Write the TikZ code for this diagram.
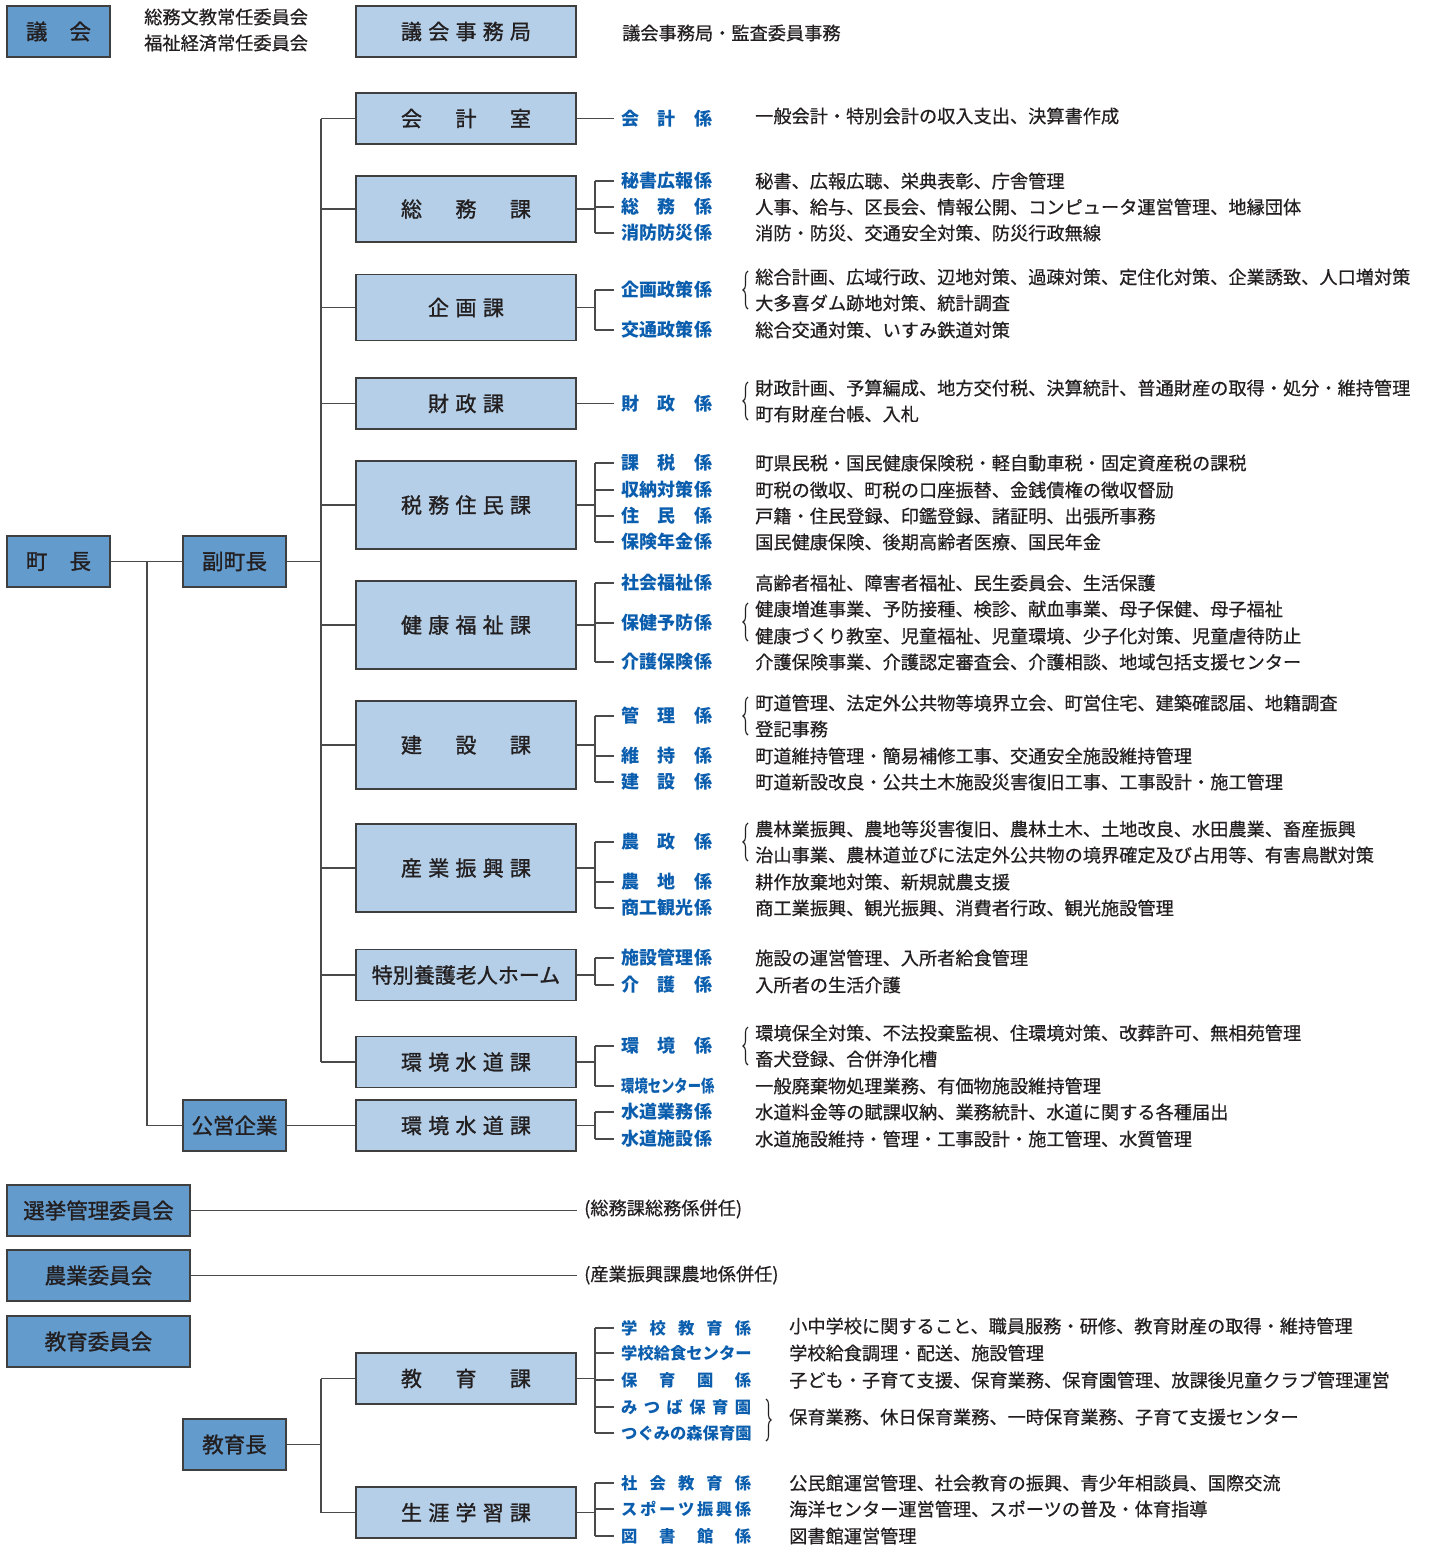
\documentclass[tikz,border=0pt]{standalone}
\usepackage{fontspec}
\setmainfont{Noto Sans CJK JP}
\newfontface\boxf{Noto Sans CJK JP}[FakeBold=1.2]
\newfontface\descf{Noto Sans CJK JP}[FakeBold=0.5]
\usetikzlibrary{decorations.pathreplacing,calc}
\definecolor{darkfill}{HTML}{649BCD}
\definecolor{lightfill}{HTML}{B4CFE7}
\definecolor{labblue}{HTML}{0B5EAE}
\definecolor{linec}{HTML}{4A4A4A}
\definecolor{bordc}{HTML}{3F3F3F}
\definecolor{textc}{HTML}{231F20}
\def\spreadA#1{\ifx\relax#1\else#1\expandafter\spreadB\fi}
\def\spreadB#1{\ifx\relax#1\else\hfill#1\expandafter\spreadB\fi}
\newcommand\SP[2]{\makebox[#1][s]{\spreadA#2\relax}}
\newcommand\LB[1]{\SP{91pt}{#1}}
\newcommand\EB[1]{\SP{130pt}{#1}}
\begin{document}
\begin{tikzpicture}[x=1pt,y=-1pt,
  dbox/.style={draw=bordc, line width=1.2pt, fill=darkfill, inner sep=0pt, text=textc,
    minimum width=103pt, minimum height=51pt, font=\boxf\fontsize{21.5}{22}\selectfont},
  lbox/.style={draw=bordc, line width=1.2pt, fill=lightfill, inner sep=0pt, text=textc,
    minimum width=220pt, minimum height=51pt, font=\boxf\fontsize{21}{22}\selectfont},
  lab/.style={anchor=west, inner sep=0pt, text=labblue, font=\bfseries\fontsize{18}{18}\selectfont},
  elab/.style={anchor=west, inner sep=0pt, text=labblue, font=\bfseries\fontsize{16.3}{17}\selectfont},
  desc/.style={anchor=west, inner sep=0pt, text=textc, font=\descf\fontsize{18.2}{19}\selectfont},
  conn/.style={draw=linec, line width=1.3pt},
  brc/.style={draw=textc, line width=1.1pt, decorate, decoration={brace, amplitude=5pt}}
]
\useasboundingbox[fill=white] (0,0) rectangle (1429,1545);
\coordinate (tx) at (321,0);
\coordinate (bx) at (595,0);
\coordinate (cx) at (147,0);
\newcommand\stub[1]{\draw[conn] ([xshift=-7pt]#1.west) -- (#1.west -| bx);}
\newcommand\brk[3]{\draw[conn] (#1.east) -- (#1.east -| bx); \draw[conn] (#2.west -| bx) -- (#3.west -| bx);}

% top row
\node[dbox] (gikai) at (58.5,31.5) {\SP{65pt}{議会}};
\node[desc] (iin1) at (144,17) {総務文教常任委員会};
\node[desc] (iin2) at (144,43) {福祉経済常任委員会};
\node[lbox] (jimu) at (466,31.5) {\SP{130pt}{議会事務局}};
\node[desc] (jimud) at (622,33) {議会事務局・監査委員事務};

% executive
\node[dbox] (chocho) at (58.5,561.5) {\SP{65pt}{町長}};
\node[dbox] (fuku) at (234.5,561.5) {\SP{65pt}{副町長}};
\node[dbox] (koei) at (234.5,1125.5) {公営企業};

\node[lbox] (kaikei) at (466,118.5) {\SP{130pt}{会計室}};
\node[lbox, minimum height=66pt] (somu) at (466,209) {\SP{130pt}{総務課}};
\node[lbox, minimum height=66pt] (kikaku) at (466,307.5) {\SP{76pt}{企画課}};
\node[lbox] (zaisei) at (466,403.5) {\SP{76pt}{財政課}};
\node[lbox, minimum height=88pt] (zeimu) at (466,505) {\SP{130pt}{税務住民課}};
\node[lbox, minimum height=88pt] (kenko) at (466,625) {\SP{130pt}{健康福祉課}};
\node[lbox, minimum height=88pt] (kensetsu) at (466,745) {\SP{130pt}{建設課}};
\node[lbox, minimum height=88pt] (sangyo) at (466,868) {\SP{130pt}{産業振興課}};
\node[lbox] (tokuyo) at (466,975) {特別養護老人ホーム};
\node[lbox] (kankyo) at (466,1062) {\SP{130pt}{環境水道課}};
\node[lbox] (suido) at (466,1125.5) {\SP{130pt}{環境水道課}};

\draw[conn] (chocho.east) -- (fuku.west);
\draw[conn] (chocho.east -| cx) |- (koei.west);
\draw[conn] (koei.east) -- (suido.west);
\draw[conn] (fuku.east) -- (fuku.east -| tx);
\draw[conn] (kaikei.west -| tx) -- (kankyo.west -| tx);
\foreach \b in {kaikei,somu,kikaku,zaisei,zeimu,kenko,kensetsu,sangyo,tokuyo,kankyo}
  \draw[conn] (\b.west -| tx) -- (\b.west);

% labels
\node[lab] (l01) at (621,118.5) {\LB{会計係}};
\node[lab] (l02) at (621,181) {\LB{秘書広報係}};
\node[lab] (l03) at (621,207) {\LB{総務係}};
\node[lab] (l04) at (621,233) {\LB{消防防災係}};
\node[lab] (l05) at (621,290) {\LB{企画政策係}};
\node[lab] (l06) at (621,330) {\LB{交通政策係}};
\node[lab] (l07) at (621,403.5) {\LB{財政係}};
\node[lab] (l08) at (621,463) {\LB{課税係}};
\node[lab] (l09) at (621,490) {\LB{収納対策係}};
\node[lab] (l10) at (621,516) {\LB{住民係}};
\node[lab] (l11) at (621,542) {\LB{保険年金係}};
\node[lab] (l12) at (621,583) {\LB{社会福祉係}};
\node[lab] (l13) at (621,623) {\LB{保健予防係}};
\node[lab] (l14) at (621,662) {\LB{介護保険係}};
\node[lab] (l15) at (621,716) {\LB{管理係}};
\node[lab] (l16) at (621,756) {\LB{維持係}};
\node[lab] (l17) at (621,782) {\LB{建設係}};
\node[lab] (l18) at (621,842) {\LB{農政係}};
\node[lab] (l19) at (621,882) {\LB{農地係}};
\node[lab] (l20) at (621,908) {\LB{商工観光係}};
\node[lab] (l21) at (621,958) {\LB{施設管理係}};
\node[lab] (l22) at (621,985) {\LB{介護係}};
\node[lab] (l23) at (621,1046) {\LB{環境係}};
\node[lab] (l24) at (621,1086) {\scalebox{0.74}[0.95]{環境センター係}};
\node[lab] (l25) at (621,1112) {\LB{水道業務係}};
\node[lab] (l26) at (621,1139) {\LB{水道施設係}};

% connectors to labels
\draw[conn] (l01.west -| kaikei.east) -- ([xshift=-7pt]l01.west);
\brk{somu}{l02}{l04} \stub{l02} \stub{l03} \stub{l04}
\brk{kikaku}{l05}{l06} \stub{l05} \stub{l06}
\draw[conn] (l07.west -| zaisei.east) -- ([xshift=-7pt]l07.west);
\brk{zeimu}{l08}{l11} \stub{l08} \stub{l09} \stub{l10} \stub{l11}
\brk{kenko}{l12}{l14} \stub{l12} \stub{l13} \stub{l14}
\brk{kensetsu}{l15}{l17} \stub{l15} \stub{l16} \stub{l17}
\brk{sangyo}{l18}{l20} \stub{l18} \stub{l19} \stub{l20}
\brk{tokuyo}{l21}{l22} \stub{l21} \stub{l22}
\brk{kankyo}{l23}{l24} \stub{l23} \stub{l24}
\brk{suido}{l25}{l26} \stub{l25} \stub{l26}

% descriptions
\node[desc] (d01) at (755,116) {一般会計・特別会計の収入支出、決算書作成};
\node[desc] (d02) at (755,181) {秘書、広報広聴、栄典表彰、庁舎管理};
\node[desc] (d03) at (755,207) {人事、給与、区長会、情報公開、コンピュータ運営管理、地縁団体};
\node[desc] (d04) at (755,233) {消防・防災、交通安全対策、防災行政無線};
\node[desc] (d05) at (755,277) {総合計画、広域行政、辺地対策、過疎対策、定住化対策、企業誘致、人口増対策};
\node[desc] (d06) at (755,303) {大多喜ダム跡地対策、統計調査};
\node[desc] (d07) at (755,330) {総合交通対策、いすみ鉄道対策};
\node[desc] (d08) at (755,388) {財政計画、予算編成、地方交付税、決算統計、普通財産の取得・処分・維持管理};
\node[desc] (d09) at (755,414) {町有財産台帳、入札};
\node[desc] (d10) at (755,463) {町県民税・国民健康保険税・軽自動車税・固定資産税の課税};
\node[desc] (d11) at (755,490) {町税の徴収、町税の口座振替、金銭債権の徴収督励};
\node[desc] (d12) at (755,516) {戸籍・住民登録、印鑑登録、諸証明、出張所事務};
\node[desc] (d13) at (755,542) {国民健康保険、後期高齢者医療、国民年金};
\node[desc] (d14) at (755,583) {高齢者福祉、障害者福祉、民生委員会、生活保護};
\node[desc] (d15) at (755,609) {健康増進事業、予防接種、検診、献血事業、母子保健、母子福祉};
\node[desc] (d16) at (755,636) {健康づくり教室、児童福祉、児童環境、少子化対策、児童虐待防止};
\node[desc] (d17) at (755,662) {介護保険事業、介護認定審査会、介護相談、地域包括支援センター};
\node[desc] (d18) at (755,703) {町道管理、法定外公共物等境界立会、町営住宅、建築確認届、地籍調査};
\node[desc] (d19) at (755,729) {登記事務};
\node[desc] (d20) at (755,756) {町道維持管理・簡易補修工事、交通安全施設維持管理};
\node[desc] (d21) at (755,782) {町道新設改良・公共土木施設災害復旧工事、工事設計・施工管理};
\node[desc] (d22) at (755,829) {農林業振興、農地等災害復旧、農林土木、土地改良、水田農業、畜産振興};
\node[desc] (d23) at (755,855) {治山事業、農林道並びに法定外公共物の境界確定及び占用等、有害鳥獣対策};
\node[desc] (d24) at (755,882) {耕作放棄地対策、新規就農支援};
\node[desc] (d25) at (755,908) {商工業振興、観光振興、消費者行政、観光施設管理};
\node[desc] (d26) at (755,958) {施設の運営管理、入所者給食管理};
\node[desc] (d27) at (755,985) {入所者の生活介護};
\node[desc] (d28) at (755,1033) {環境保全対策、不法投棄監視、住環境対策、改葬許可、無相苑管理};
\node[desc] (d29) at (755,1059) {畜犬登録、合併浄化槽};
\node[desc] (d30) at (755,1086) {一般廃棄物処理業務、有価物施設維持管理};
\node[desc] (d31) at (755,1112) {水道料金等の賦課収納、業務統計、水道に関する各種届出};
\node[desc] (d32) at (755,1139) {水道施設維持・管理・工事設計・施工管理、水質管理};

% braces
\draw[brc] (748,309) -- (748,271);
\draw[brc] (748,420) -- (748,382);
\draw[brc] (748,641) -- (748,603);
\draw[brc] (748,735) -- (748,697);
\draw[brc] (748,861) -- (748,823);
\draw[brc] (748,1065) -- (748,1027);

% committees
\node[dbox, minimum width=183pt] (senkyo) at (98.5,1210.5) {選挙管理委員会};
\node[dbox, minimum width=183pt] (nogyo) at (98.5,1275.5) {農業委員会};
\node[dbox, minimum width=183pt] (kyoiin) at (98.5,1341.5) {教育委員会};
\node[desc] (sk) at (584,1209) {(総務課総務係併任)};
\node[desc] (ng) at (584,1275) {(産業振興課農地係併任)};
\draw[conn] (senkyo.east) -- ([xshift=-7pt]sk.west |- senkyo.east);
\draw[conn] (nogyo.east) -- ([xshift=-7pt]ng.west |- nogyo.east);

% education
\node[dbox] (kyocho) at (234.5,1444.5) {教育長};
\node[lbox] (kyoka) at (466,1378.5) {\SP{130pt}{教育課}};
\node[lbox] (shogai) at (466,1512.5) {\SP{130pt}{生涯学習課}};
\draw[conn] (kyocho.east) -- (kyocho.east -| tx);
\draw[conn] (kyoka.west -| tx) -- (shogai.west -| tx);
\draw[conn] (kyoka.west -| tx) -- (kyoka.west);
\draw[conn] (shogai.west -| tx) -- (shogai.west);

\node[elab] (e01) at (621,1328) {\EB{学校教育係}};
\node[elab] (e02) at (621,1353) {\EB{学校給食センター}};
\node[elab] (e03) at (621,1380) {\EB{保育園係}};
\node[elab] (e04) at (621,1407) {\EB{みつば保育園}};
\node[elab] (e05) at (621,1433) {\EB{つぐみの森保育園}};
\node[elab] (e06) at (621,1483) {\EB{社会教育係}};
\node[elab] (e07) at (621,1509) {\EB{スポーツ振興係}};
\node[elab] (e08) at (621,1536) {\EB{図書館係}};
\brk{kyoka}{e01}{e05} \stub{e01} \stub{e02} \stub{e03} \stub{e04} \stub{e05}
\brk{shogai}{e06}{e08} \stub{e06} \stub{e07} \stub{e08}

\node[desc] (f01) at (789,1326) {小中学校に関すること、職員服務・研修、教育財産の取得・維持管理};
\node[desc] (f02) at (789,1353) {学校給食調理・配送、施設管理};
\node[desc] (f03) at (789,1380) {子ども・子育て支援、保育業務、保育園管理、放課後児童クラブ管理運営};
\node[desc] (f04) at (789,1417) {保育業務、休日保育業務、一時保育業務、子育て支援センター};
\node[desc] (f05) at (789,1483) {公民館運営管理、社会教育の振興、青少年相談員、国際交流};
\node[desc] (f06) at (789,1509) {海洋センター運営管理、スポーツの普及・体育指導};
\node[desc] (f07) at (789,1536) {図書館運営管理};
\draw[brc] (766,1399) -- (766,1441);
\end{tikzpicture}
\end{document}
